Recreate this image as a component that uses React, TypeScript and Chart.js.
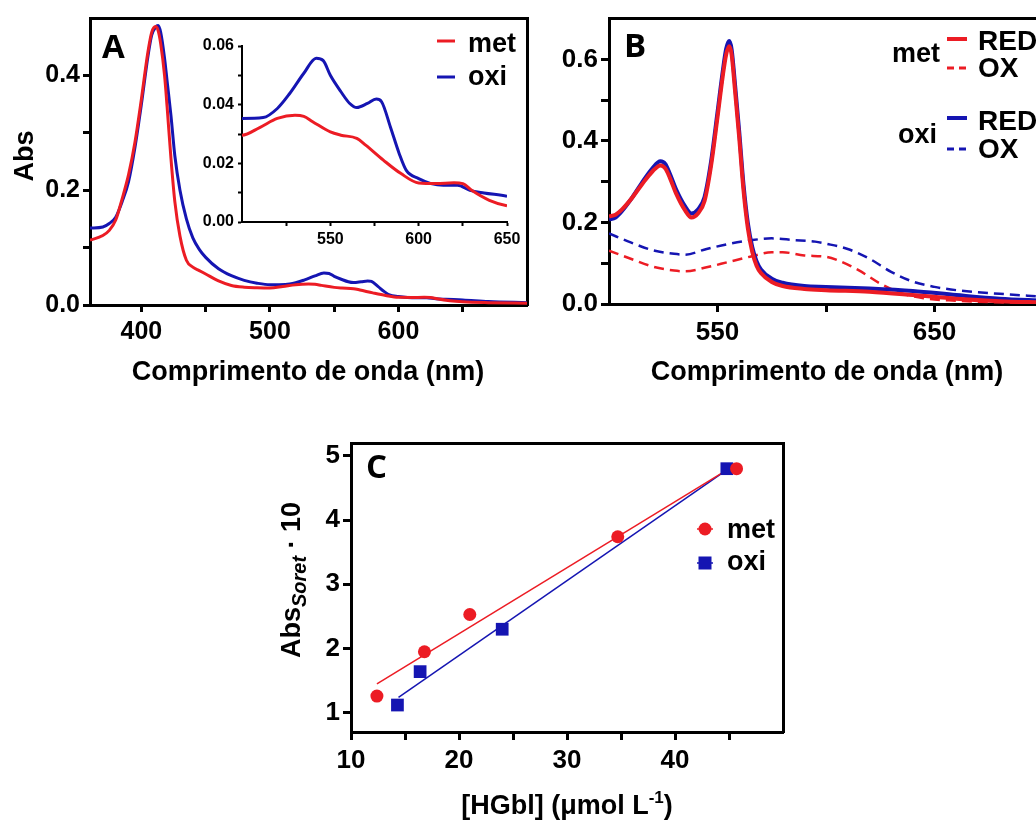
import React, { useEffect, useRef } from "react";
import { Chart, registerables } from "chart.js";

Chart.register(...registerables);

const RED = "#ec1c24";
const BLUE = "#1515b2";
const FONT = '"Liberation Sans", Arial, Helvetica, sans-serif';
const LETTER_FONT = '"Open Sans", "Liberation Sans", sans-serif';

// ---------------- Panel A : spectra met / oxi ----------------
const seriesA = ["met", "oxi"];
const aMetX = [360, 370, 375, 380, 385, 390, 395, 400, 405, 408, 411, 413, 415, 418, 420, 423, 426, 430, 435, 440, 445, 450, 460, 470, 480, 490, 500, 510, 520, 530, 535, 540, 550, 556, 565, 570, 580, 590, 600, 610, 620, 625, 630, 640, 650, 670, 700];
const aMetY = [0.113, 0.121, 0.130, 0.148, 0.185, 0.227, 0.284, 0.359, 0.440, 0.475, 0.485, 0.478, 0.455, 0.400, 0.345, 0.255, 0.180, 0.120, 0.078, 0.066, 0.060, 0.054, 0.042, 0.034, 0.031, 0.030, 0.0296, 0.0322, 0.0353, 0.0364, 0.036, 0.0342, 0.0307, 0.0296, 0.0285, 0.0262, 0.0211, 0.0165, 0.0133, 0.0131, 0.0134, 0.0131, 0.0108, 0.0074, 0.0055, 0.004, 0.003];
const aOxiX = [360, 370, 375, 380, 385, 390, 395, 400, 405, 408, 411, 413, 415, 418, 420, 423, 426, 430, 435, 440, 445, 450, 460, 470, 480, 490, 500, 512, 520, 527, 535, 542, 546, 550, 556, 561, 565, 571, 576, 579, 584, 589, 593, 600, 607, 614, 622, 629, 637, 650, 670, 700];
const aOxiY = [0.134, 0.136, 0.142, 0.153, 0.180, 0.215, 0.275, 0.350, 0.432, 0.470, 0.484, 0.487, 0.475, 0.430, 0.390, 0.330, 0.260, 0.200, 0.150, 0.117, 0.097, 0.083, 0.063, 0.051, 0.043, 0.038, 0.0353, 0.0356, 0.0387, 0.0438, 0.0507, 0.0558, 0.055, 0.050, 0.0444, 0.0404, 0.039, 0.0404, 0.0419, 0.041, 0.0324, 0.0233, 0.0176, 0.0148, 0.0131, 0.0125, 0.0125, 0.0108, 0.0099, 0.0088, 0.006, 0.004];
const aXTicks = [400, 450, 500, 550, 600, 650];
const aXLabels = ["400", "", "500", "", "600", ""];
const aYTicks = [0, 0.1, 0.2, 0.3, 0.4];
const aYLabels = ["0.0", "", "0.2", "", "0.4"];
const insetXTicks = [525, 550, 575, 600, 625, 650];
const insetXLabels = ["", "550", "", "600", "", "650"];
const insetYTicks = [0, 0.01, 0.02, 0.03, 0.04, 0.05, 0.06];
const insetYLabels = ["0.00", "", "0.02", "", "0.04", "", "0.06"];

// ---------------- Panel B : reduced / oxidised ----------------
const bGroups = ["met", "oxi"];
const bStates = ["RED", "OX"];
const bRedX = [500, 503, 506, 510, 515, 520, 523.7, 526, 528, 531, 535, 538, 541, 544, 547, 550, 552.5, 554, 555.4, 556.5, 558, 560, 562, 564, 566, 568, 570, 575, 580, 590, 600, 620, 640, 660, 680, 700];
const bMetRedY = [0.215, 0.219, 0.232, 0.256, 0.292, 0.325, 0.340, 0.332, 0.310, 0.270, 0.230, 0.212, 0.222, 0.252, 0.338, 0.458, 0.562, 0.612, 0.632, 0.612, 0.528, 0.408, 0.278, 0.185, 0.128, 0.094, 0.076, 0.054, 0.044, 0.037, 0.034, 0.030, 0.022, 0.013, 0.007, 0.004];
const bOxiRedY = [0.207, 0.212, 0.228, 0.256, 0.296, 0.333, 0.350, 0.343, 0.320, 0.280, 0.240, 0.222, 0.232, 0.262, 0.348, 0.470, 0.574, 0.626, 0.645, 0.625, 0.543, 0.423, 0.292, 0.198, 0.140, 0.105, 0.085, 0.062, 0.052, 0.044, 0.042, 0.038, 0.032, 0.022, 0.013, 0.008];
const bMetOxX = [500, 510, 520, 530, 535, 545, 555, 565, 575, 580, 590, 600, 605, 615, 625, 635, 645, 660, 680, 700];
const bMetOxY = [0.131, 0.111, 0.092, 0.082, 0.080, 0.090, 0.103, 0.116, 0.127, 0.127, 0.119, 0.116, 0.108, 0.083, 0.050, 0.026, 0.014, 0.008, 0.004, 0.003];
const bOxiOxX = [500, 510, 520, 530, 535, 545, 555, 565, 575, 585, 595, 600, 610, 620, 630, 640, 650, 660, 680, 700];
const bOxiOxY = [0.173, 0.151, 0.132, 0.123, 0.121, 0.135, 0.147, 0.156, 0.161, 0.157, 0.153, 0.148, 0.135, 0.111, 0.079, 0.055, 0.042, 0.034, 0.025, 0.018];
const bXTicks = [550, 600, 650];
const bXLabels = ["550", "", "650"];
const bYTicks = [0, 0.1, 0.2, 0.3, 0.4, 0.5, 0.6];
const bYLabels = ["0.0", "", "0.2", "", "0.4", "", "0.6"];

// ---------------- Panel C : Soret absorbance vs [HGbl] ----------------
const cMetX = [12.4, 16.8, 21.0, 34.7, 45.7];
const cMetY = [1.26, 1.95, 2.53, 3.74, 4.80];
const cOxiX = [14.3, 16.4, 24.0, 44.8];
const cOxiY = [1.12, 1.64, 2.30, 4.80];
const cMetFitX = [12.4, 44.9];
const cMetFitY = [1.45, 4.79];
const cOxiFitX = [14.4, 44.8];
const cOxiFitY = [1.24, 4.78];
const cXTicks = [10, 15, 20, 25, 30, 35, 40, 45];
const cXLabels = ["10", "", "20", "", "30", "", "40", ""];
const cYTicks = [1, 2, 3, 4, 5];
const cYLabels = ["1", "2", "3", "4", "5"];

// ---------------- helpers ----------------
const pts = (xs: number[], ys: number[]) => xs.map((x, i) => ({ x, y: ys[i] }));

function tickAxis(o: any) {
  return {
    type: "linear",
    position: o.position,
    min: o.min,
    max: o.max,
    afterBuildTicks: (s: any) => {
      s.ticks = o.ticks.map((v: number) => ({ value: v }));
    },
    afterFit: (s: any) => {
      if (s.isHorizontal()) s.height = o.size;
      else s.width = o.size;
    },
    ticks: {
      autoSkip: false,
      maxRotation: 0,
      minRotation: 0,
      padding: o.pad,
      color: "#000",
      font: { family: FONT, size: o.fontSize, weight: "bold" },
      callback: (_v: any, i: number) => o.labels[i] ?? "",
    },
    grid: {
      display: true,
      drawOnChartArea: false,
      drawTicks: true,
      tickLength: o.tickLength,
      tickWidth: o.lineWidth,
      tickColor: "#000",
    },
    border: { display: true, color: "#000", width: o.lineWidth },
  };
}

function frameAxis(position: string, min: number, max: number, lineWidth: number) {
  return {
    type: "linear",
    position,
    min,
    max,
    display: true,
    afterFit: (s: any) => {
      if (s.isHorizontal()) s.height = 0;
      else s.width = 0;
    },
    ticks: { display: false },
    grid: { display: false, drawTicks: false },
    border: { display: true, color: "#000", width: lineWidth },
  };
}

function curve(label: string, xs: number[], ys: number[], color: string, width: number, dash: number[] = []) {
  return {
    label,
    data: pts(xs, ys),
    borderColor: color,
    backgroundColor: color,
    borderWidth: width,
    borderDash: dash,
    pointRadius: 0,
    fill: false,
    cubicInterpolationMode: "monotone",
  };
}

function baseOptions(padding: any, scales: any, draw: (ctx: CanvasRenderingContext2D) => void) {
  return {
    options: {
      responsive: false,
      maintainAspectRatio: false,
      animation: false,
      events: [],
      layout: { padding },
      plugins: { legend: { display: false }, tooltip: { enabled: false } },
      scales,
    },
    plugins: [
      {
        id: "decor",
        afterDraw(chart: any) {
          const ctx = chart.ctx as CanvasRenderingContext2D;
          ctx.save();
          draw(ctx);
          ctx.restore();
        },
      },
    ],
  };
}

function txt(ctx: CanvasRenderingContext2D, s: string, x: number, y: number, size: number, align: CanvasTextAlign = "left", family = FONT, weight = "bold", style = "") {
  ctx.font = `${style} ${weight} ${size}px ${family}`;
  ctx.fillStyle = "#000";
  ctx.textAlign = align;
  ctx.textBaseline = "alphabetic";
  ctx.fillText(s, x, y);
}

function seg(ctx: CanvasRenderingContext2D, x1: number, x2: number, y: number, color: string, w: number, dash: number[] = []) {
  ctx.beginPath();
  ctx.setLineDash(dash);
  ctx.strokeStyle = color;
  ctx.lineWidth = w;
  ctx.moveTo(x1, y);
  ctx.lineTo(x2, y);
  ctx.stroke();
  ctx.setLineDash([]);
}

function ChartCanvas({ left, top, width, height, build }: { left: number; top: number; width: number; height: number; build: () => any }) {
  const ref = useRef<HTMLCanvasElement>(null);
  useEffect(() => {
    const chart = new Chart(ref.current as HTMLCanvasElement, build());
    return () => chart.destroy();
  }, []);
  return (
    <canvas
      ref={ref}
      width={width}
      height={height}
      style={{ position: "absolute", left, top, width, height }}
    />
  );
}

// ---------------- chart configs ----------------
function buildA() {
  const base = baseOptions(
    { left: 0, top: 14, right: 3, bottom: 0 },
    {
      x: tickAxis({ position: "bottom", min: 360, max: 700, ticks: aXTicks, labels: aXLabels, size: 95, fontSize: 25, tickLength: 7, lineWidth: 3, pad: 5 }),
      y: tickAxis({ position: "left", min: 0, max: 0.5, ticks: aYTicks, labels: aYLabels, size: 90, fontSize: 25, tickLength: 7, lineWidth: 3, pad: 3 }),
      x2: frameAxis("top", 360, 700, 3),
      y2: frameAxis("right", 0, 0.5, 3),
    },
    (ctx) => {
      txt(ctx, "A", 102, 58, 33, "left", LETTER_FONT, "700");
      seg(ctx, 437, 455, 41, RED, 3);
      txt(ctx, seriesA[0], 468, 52, 27);
      seg(ctx, 437, 455, 77, BLUE, 3);
      txt(ctx, seriesA[1], 468, 85, 27);
      txt(ctx, "Comprimento de onda (nm)", 308, 380, 27, "center");
      ctx.save();
      ctx.translate(33, 156);
      ctx.rotate(-Math.PI / 2);
      txt(ctx, "Abs", 0, 0, 27, "center");
      ctx.restore();
    }
  );
  return {
    type: "line",
    data: {
      datasets: [
        curve(seriesA[0], aMetX, aMetY, RED, 3),
        curve(seriesA[1], aOxiX, aOxiY, BLUE, 3),
      ],
    },
    ...base,
  };
}

function buildInset() {
  const base = baseOptions(
    { left: 0, top: 26, right: 23, bottom: 0 },
    {
      x: tickAxis({ position: "bottom", min: 500, max: 650, ticks: insetXTicks, labels: insetXLabels, size: 33, fontSize: 16, tickLength: 4, lineWidth: 2, pad: 4 }),
      y: tickAxis({ position: "left", min: 0, max: 0.06, ticks: insetYTicks, labels: insetYLabels, size: 62, fontSize: 16, tickLength: 4, lineWidth: 2, pad: 4 }),
    },
    () => {}
  );
  return {
    type: "line",
    data: {
      datasets: [
        curve(seriesA[0], aMetX, aMetY, RED, 3),
        curve(seriesA[1], aOxiX, aOxiY, BLUE, 3),
      ],
    },
    ...base,
  };
}

function buildB() {
  const base = baseOptions(
    { left: 0, top: 14, right: 7, bottom: 0 },
    {
      x: tickAxis({ position: "bottom", min: 500, max: 700, ticks: bXTicks, labels: bXLabels, size: 96, fontSize: 26, tickLength: 8, lineWidth: 3, pad: 5 }),
      y: tickAxis({ position: "left", min: 0, max: 0.7, ticks: bYTicks, labels: bYLabels, size: 79, fontSize: 26, tickLength: 8, lineWidth: 3, pad: 3 }),
      x2: frameAxis("top", 500, 700, 3),
    },
    (ctx) => {
      txt(ctx, "B", 94, 57, 33, "left", LETTER_FONT, "700");
      txt(ctx, bGroups[0], 410, 62, 27, "right");
      seg(ctx, 417, 437, 39, RED, 4);
      txt(ctx, bStates[0], 448, 50, 28);
      seg(ctx, 417, 437, 68, RED, 3, [7, 5]);
      txt(ctx, bStates[1], 448, 77, 28);
      txt(ctx, bGroups[1], 407, 143, 27, "right");
      seg(ctx, 417, 437, 118, BLUE, 4);
      txt(ctx, bStates[0], 448, 130, 28);
      seg(ctx, 417, 437, 149, BLUE, 3, [7, 5]);
      txt(ctx, bStates[1], 448, 158, 28);
      txt(ctx, "Comprimento de onda (nm)", 297, 380, 27, "center");
    }
  );
  return {
    type: "line",
    data: {
      datasets: [
        curve("met RED", bRedX, bMetRedY, RED, 4),
        curve("oxi RED", bRedX, bOxiRedY, BLUE, 4),
        curve("met OX", bMetOxX, bMetOxY, RED, 2.5, [10, 6]),
        curve("oxi OX", bOxiOxX, bOxiOxY, BLUE, 2.5, [10, 6]),
      ],
    },
    ...base,
  };
}

function buildC() {
  const base = baseOptions(
    { left: 0, top: 23, right: 27, bottom: 0 },
    {
      x: tickAxis({ position: "bottom", min: 10, max: 50, ticks: cXTicks, labels: cXLabels, size: 89, fontSize: 26, tickLength: 8, lineWidth: 3, pad: 5 }),
      y: tickAxis({ position: "left", min: 0.7, max: 5.2, ticks: cYTicks, labels: cYLabels, size: 101, fontSize: 26, tickLength: 8, lineWidth: 3, pad: 3 }),
      x2: frameAxis("top", 10, 50, 3),
      y2: frameAxis("right", 0.7, 5.2, 3),
    },
    (ctx) => {
      txt(ctx, "C", 116, 58, 33, "left", LETTER_FONT, "700");
      // legend
      seg(ctx, 447, 463, 109, RED, 1.5);
      ctx.fillStyle = RED;
      ctx.beginPath();
      ctx.arc(455, 109, 6.5, 0, Math.PI * 2);
      ctx.fill();
      txt(ctx, "met", 477, 118, 27);
      seg(ctx, 447, 463, 143, BLUE, 1.5);
      ctx.fillStyle = BLUE;
      ctx.fillRect(455 - 6.5, 143 - 6.5, 13, 13);
      txt(ctx, "oxi", 477, 150, 27);
      // x title  [HGbl] (µmol L-1)
      const parts: [string, number, number][] = [
        ["[HGbl] (", 27, 0],
        ["\u03bc", 27, 0],
        ["mol L", 27, 0],
        ["-1", 17, -11],
        [")", 27, 0],
      ];
      let total = 0;
      parts.forEach(([s, size]) => {
        ctx.font = `bold ${size}px ${FONT}`;
        total += ctx.measureText(s).width;
      });
      let x = 317 - total / 2;
      parts.forEach(([s, size, dy]) => {
        txt(ctx, s, x, 394 + dy, size);
        ctx.font = `bold ${size}px ${FONT}`;
        x += ctx.measureText(s).width;
      });
      // y title  Abs_Soret · 10
      ctx.save();
      ctx.translate(50, 160);
      ctx.rotate(-Math.PI / 2);
      const yparts: [string, number, number, string][] = [
        ["Abs", 27, 0, ""],
        ["Soret", 20, 6, "italic"],
        [" \u00b7 10", 27, 0, ""],
      ];
      let tot = 0;
      yparts.forEach(([s, size, , st]) => {
        ctx.font = `${st} bold ${size}px ${FONT}`;
        tot += ctx.measureText(s).width;
      });
      let px = -tot / 2;
      yparts.forEach(([s, size, dy, st]) => {
        txt(ctx, s, px, dy, size, "left", FONT, "bold", st);
        ctx.font = `${st} bold ${size}px ${FONT}`;
        px += ctx.measureText(s).width;
      });
      ctx.restore();
    }
  );
  return {
    type: "line",
    data: {
      datasets: [
        {
          label: "met",
          data: pts(cMetX, cMetY),
          showLine: false,
          pointStyle: "circle",
          pointRadius: 6.5,
          pointBackgroundColor: RED,
          pointBorderColor: RED,
          pointBorderWidth: 0,
        },
        {
          label: "oxi",
          data: pts(cOxiX, cOxiY),
          showLine: false,
          pointStyle: "rect",
          pointRadius: 9,
          pointBackgroundColor: BLUE,
          pointBorderColor: BLUE,
          pointBorderWidth: 0,
        },
        { label: "met fit", data: pts(cMetFitX, cMetFitY), borderColor: RED, borderWidth: 1.5, pointRadius: 0, fill: false },
        { label: "oxi fit", data: pts(cOxiFitX, cOxiFitY), borderColor: BLUE, borderWidth: 1.5, pointRadius: 0, fill: false },
      ],
    },
    ...base,
  };
}

export default function App() {
  return (
    <div
      style={{
        position: "absolute",
        left: 0,
        top: 0,
        width: 1036,
        height: 821,
        overflow: "hidden",
        background: "#fff",
      }}
    >
      <ChartCanvas left={0} top={0} width={530} height={400} build={buildA} />
      <ChartCanvas left={180} top={20} width={350} height={235} build={buildInset} />
      <ChartCanvas left={530} top={0} width={520} height={400} build={buildB} />
      <ChartCanvas left={250} top={420} width={560} height={401} build={buildC} />
    </div>
  );
}
